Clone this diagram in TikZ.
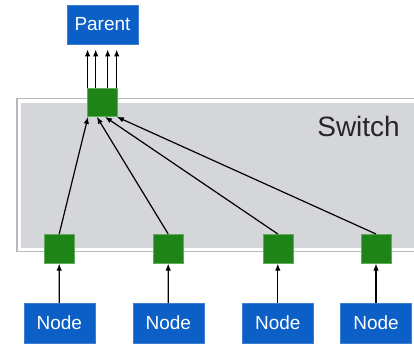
\documentclass[tikz,border=0pt]{standalone}
\usepackage{fontspec}
\setmainfont{Liberation Sans}
\usetikzlibrary{arrows.meta,calc}
\definecolor{boxblue}{HTML}{0B5FC7}
\definecolor{portgreen}{HTML}{1E8417}
\definecolor{swgray}{HTML}{D5D6DA}
\tikzset{
  bluebox/.style={fill=boxblue, draw=boxblue!80!white, minimum width=71pt, minimum height=39.5pt, inner sep=0pt, text=white, font=\fontsize{19}{19}\selectfont},
  port/.style={fill=portgreen, draw=portgreen!70!white, line width=0.6pt, minimum width=30pt, minimum height=29pt, inner sep=0pt},
  arr/.style={-{Latex[length=7pt,width=5.5pt]}, line width=1.2pt, black}
}
\begin{document}
\begin{tikzpicture}[x=1pt,y=-1pt]
\useasboundingbox (0,0) rectangle (414,347);
% switch frame
\fill[white] (17,98) rectangle (430,252);
\draw[gray!55, line width=1.5pt] (430,98.5) -- (17,98.5) -- (17,251.5) -- (430,251.5);
\fill[swgray] (21,103) rectangle (430,248);
\node[anchor=base east, inner sep=0pt, font=\fontsize{28}{28}\selectfont, text=black!85] (swlabel) at (400,136.5) {Switch};
% parent
\node[bluebox] (parent) at (102.5,24.5) {Parent};
% top port
\node[port, minimum height=28.5pt] (sw) at (102.3,102.3) {};
% bottom ports
\node[port] (p1) at (59.2,248.8) {};
\node[port] (p2) at (168.2,248.8) {};
\node[port] (p3) at (277.8,248.8) {};
\node[port] (p4) at (376,248.8) {};
% nodes
\node[bluebox] (n1) at (59.3,323) {Node};
\node[bluebox] (n2) at (168.3,323) {Node};
\node[bluebox] (n3) at (277.8,323) {Node};
\node[bluebox] (n4) at (376,323) {Node};
% up arrows to parent
\foreach \dx in {-14.7,-6.6,5.4,14.4}{
  \draw[arr, shorten >=5pt] ([xshift=\dx pt]sw.north) -- ([xshift=\dx pt]sw.north |- parent.south);
}
% node to port arrows
\foreach \i in {1,2,3,4}{
  \draw[arr] (n\i.north) -- (p\i.south);
}
% port to switch arrows
\draw[arr] (p1.north) -- ([xshift=-14.3pt]sw.south);
\draw[arr] (p2.north) -- ([xshift=-5.5pt]sw.south);
\draw[arr] (p3.north) -- ([xshift=2.7pt]sw.south);
\draw[arr] (p4.north) -- ([xshift=14.5pt]sw.south);
\end{tikzpicture}
\end{document}
